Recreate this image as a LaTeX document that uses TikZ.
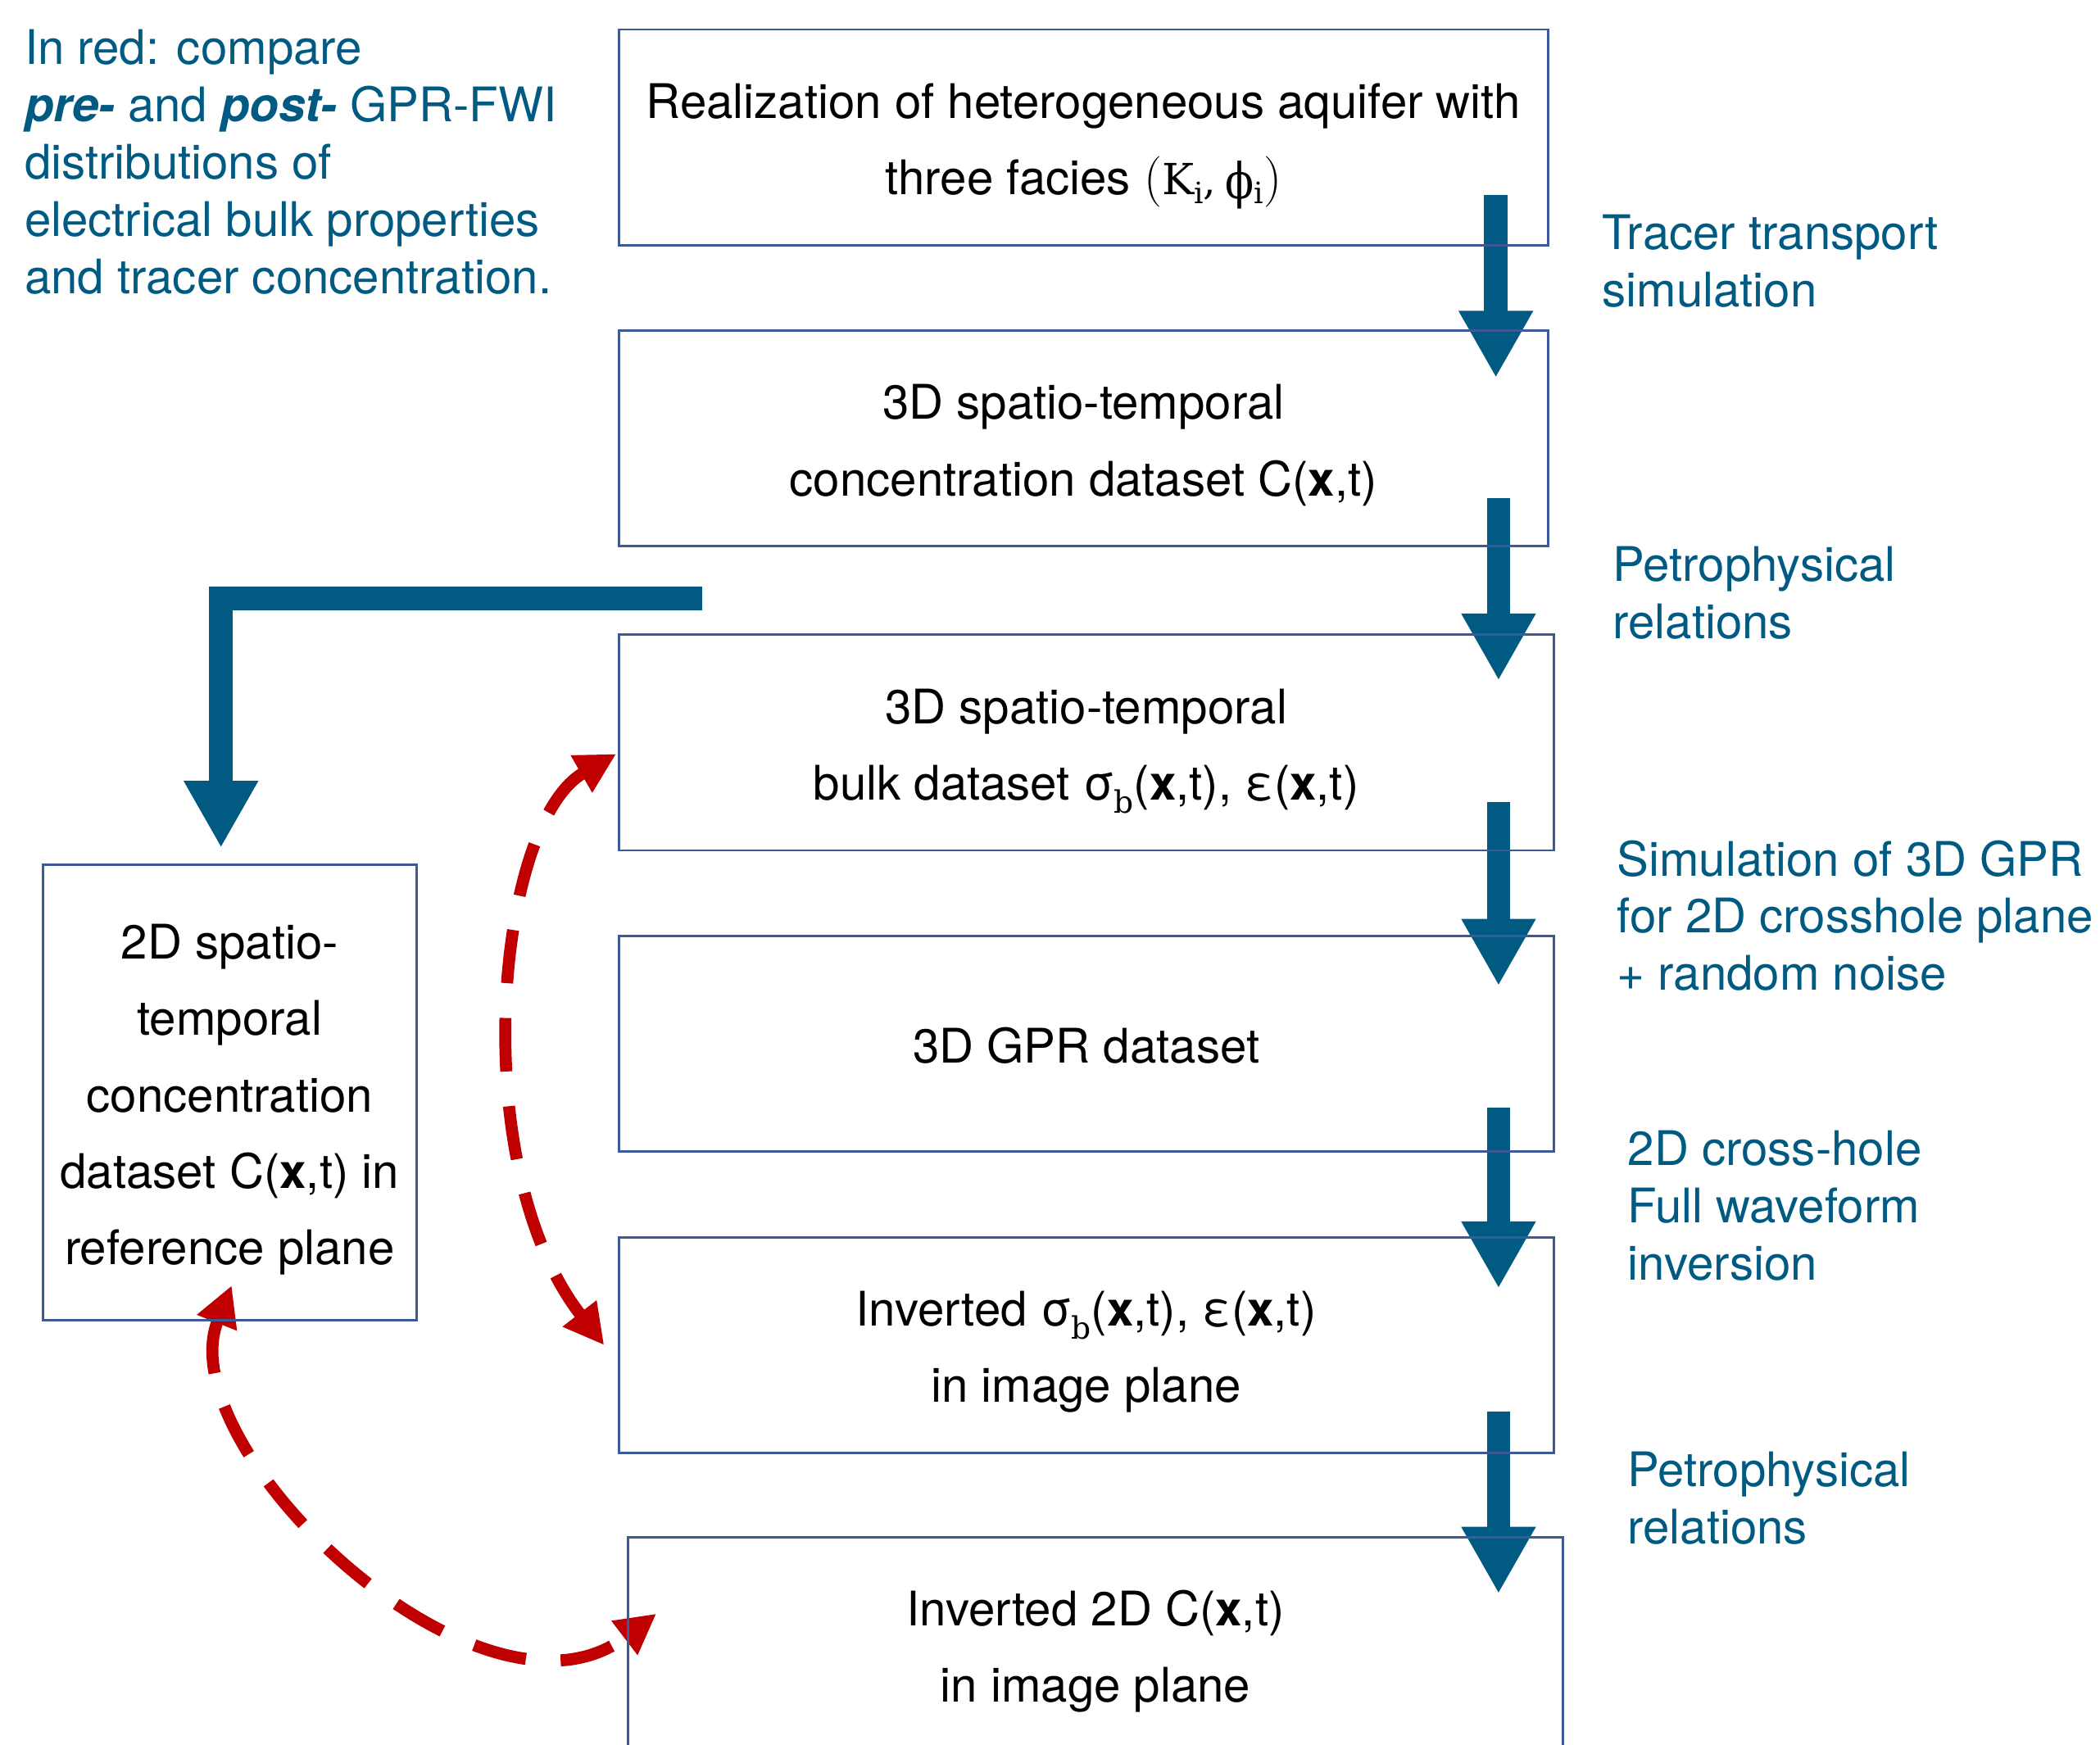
\documentclass[tikz,border=0pt]{standalone}
\usepackage[no-math]{fontspec}
\setmainfont{TeX Gyre Heros}
\newfontfamily\lmr{Latin Modern Roman}
\newfontfamily\dvserif{DejaVu Serif}
\usetikzlibrary{arrows.meta,calc}

\definecolor{flowblue}{HTML}{005A82}
\definecolor{noteblue}{HTML}{005A82}
\definecolor{frameblue}{HTML}{3D5A98}
\definecolor{cmpred}{HTML}{C00000}

\pgfdeclarelayer{back}
\pgfsetlayers{back,main}

% centred lines inside a stage box (28.5pt line grid)
\newcommand\boxlines[1]{\fontsize{17.8pt}{28.5pt}\selectfont
  \begin{tabular}{@{}c@{}}\rule{0pt}{22.75pt}#1\end{tabular}}
% left-aligned side notes, anchored at the first baseline
\newcommand\notelines[1]{\fontsize{17.8pt}{21.4pt}\selectfont
  \begin{tabular}[t]{@{}l@{}}#1\end{tabular}}
\newcommand\xt{(\textbf{x},t)}
% serif lowered index: drop, size, letter
\newcommand\lowidx[3]{\raisebox{#1}{\dvserif\fontsize{#2}{#2}\selectfont #3}}
\newcommand\sigb{σ\lowidx{-5pt}{11.5pt}{b}}
% facies parameters (K_i, phi_i)
\newcommand\facies{{\lmr\fontsize{19pt}{20pt}\selectfont(}%
  {\dvserif\fontsize{16pt}{18pt}\selectfont K}\lowidx{-3.5pt}{11pt}{i}%
  {\dvserif\fontsize{15pt}{17pt}\selectfont,}\hspace{3.5pt}%
  {\dvserif\fontsize{18.5pt}{20pt}\selectfont\raisebox{-1.5pt}{\scalebox{0.85}[1]{ϕ}}}%
  \lowidx{-3.5pt}{11pt}{i}%
  {\lmr\fontsize{19pt}{20pt}\selectfont)}}

\begin{document}
\begin{tikzpicture}[x=0.5pt,y=-0.5pt,
  stage/.style={draw=frameblue,line width=0.9pt,inner sep=0pt,
    minimum height=80.5pt,text=black},
  note/.style={anchor=base west,inner sep=0pt,text=noteblue},
  flow/.style={draw=flowblue,line width=8.8pt,
    -{Triangle[length=25pt,width=26pt]}},
  compare/.style={draw=cmpred,line width=4.5pt,dash pattern=on 20pt off 13pt,
    {Triangle[length=15pt,width=15pt]}-{Triangle[length=15pt,width=15pt]}}]

\path[use as bounding box,clip] (0,0) rectangle (1568,1303);

% ---- processing chain ----
\node[stage,minimum width=347pt] (b1) at (809,102.5)
  {\boxlines{Realization of heterogeneous aquifer with\\
   three facies \facies}};
\node[stage,minimum width=347pt] (b2) at (809,327.5)
  {\boxlines{3D spatio-temporal\\concentration dataset C\xt}};
\node[stage,minimum width=349pt] (b3) at (811,554.5)
  {\boxlines{3D spatio-temporal\\bulk dataset \sigb\xt, ε\xt}};
\node[stage,minimum width=349pt] (b4) at (811,779.5)
  {\boxlines{3D GPR dataset}};
\node[stage,minimum width=349pt] (b5) at (811,1004.5)
  {\boxlines{Inverted \sigb\xt, ε\xt\\in image plane}};
\node[stage,minimum width=349pt] (b6) at (818,1228.5)
  {\boxlines{Inverted 2D C\xt\\in image plane}};

% ---- reference plane ----
\node[stage,minimum width=139.5pt,minimum height=170pt] (lb) at (171.5,816)
  {\boxlines{2D spatio-\\temporal\\concentration\\dataset C\xt{} in\\reference plane}};

% ---- side notes ----
\node[note] (intro) at (18,48) {\notelines{In red: compare\\
  \textbf{\textit{pre-}} and \textbf{\textit{post-}} GPR-FWI\\
  distributions of\\electrical bulk properties\\and tracer concentration.}};
\node[note] (s1) at (1196,186) {\notelines{Tracer transport\\simulation}};
\node[note] (s2) at (1204,434) {\notelines{Petrophysical\\relations}};
\node[note] (s3) at (1207,654) {\notelines{Simulation of 3D GPR\\for 2D crosshole plane\\+ random noise}};
\node[note] (s4) at (1215,870) {\notelines{2D cross-hole\\Full waveform\\inversion}};
\node[note] (s5) at (1215,1110) {\notelines{Petrophysical\\relations}};

\coordinate (split) at ($(b2.south west)+(63,38)$);

\begin{pgfonlayer}{back}
  % main flow
  \draw[flow] ($(b1.south east)+(-40,-38)$) -- ($(b2.north east)+(-40,36)$);
  \draw[flow] ($(b2.south east)+(-38,-37)$) -- ($(b3.north east)+(-42,35)$);
  \draw[flow] ($(b3.south east)+(-42,-37)$) -- ($(b4.north east)+(-42,38)$);
  \draw[flow] ($(b4.south east)+(-42,-34)$) -- ($(b5.north east)+(-42,39)$);
  \draw[flow] ($(b5.south east)+(-42,-32)$) -- ($(b6.north east)+(-49,43)$);
  % branch to the reference plane
  \draw[flow,line join=miter] (split) -| ($(lb.north)+(-6.5,-12)$);
  % comparisons
  \draw[compare] ($(b3.west)+(-1,8.5)$) .. controls +(-90,52) and +(-104,-134)
    .. ($(b5.west)+(-10,0)$);
  \draw[compare] ($(lb.south)+(1.5,-27)$) .. controls +(-48,121) and +(-131,100)
    .. ($(b6.west)+(22,-23.5)$);
\end{pgfonlayer}
\end{tikzpicture}
\end{document}
